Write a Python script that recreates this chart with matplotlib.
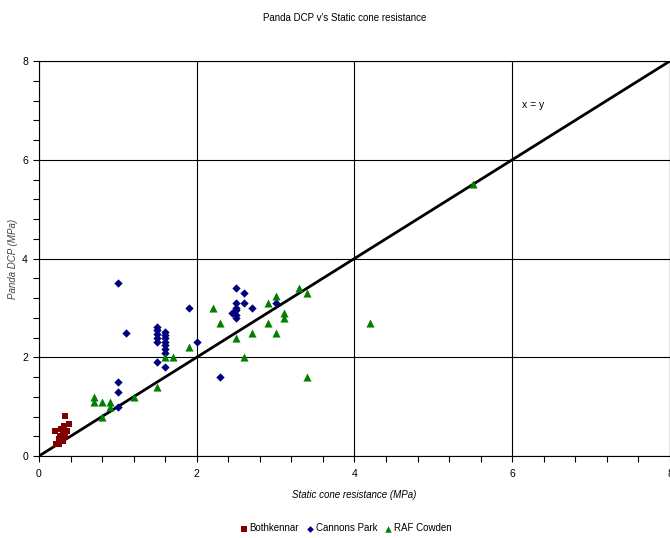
import matplotlib
matplotlib.use("Agg")
import matplotlib.pyplot as plt
from matplotlib.ticker import MultipleLocator

plt.rcParams['font.family'] = ['Liberation Sans', 'DejaVu Sans']

# Static cone resistance (MPa) vs Panda DCP (MPa) for three sites
bothkennar_x = [0.20, 0.22, 0.25, 0.27, 0.28, 0.30, 0.32, 0.33, 0.30, 0.35, 0.38, 0.25, 0.33, 0.28]
bothkennar_y = [0.50, 0.25, 0.35, 0.40, 0.55, 0.45, 0.60, 0.82, 0.30, 0.50, 0.65, 0.25, 0.38, 0.30]

cannons_x = [1.0, 1.1, 1.0, 1.0, 1.0, 1.5, 1.5, 1.5, 1.5, 1.5, 1.5,
             1.6, 1.6, 1.6, 1.6, 1.6, 1.6, 1.6, 1.6, 1.9, 2.0, 2.3,
             2.5, 2.6, 2.5, 2.6, 2.5, 2.45, 2.5, 2.5, 2.5, 2.7, 3.0]
cannons_y = [3.5, 2.5, 1.5, 1.3, 1.0, 2.62, 2.55, 2.48, 2.4, 2.3, 1.9,
             2.52, 2.45, 2.38, 2.31, 2.25, 2.17, 2.09, 1.8, 3.0, 2.3, 1.6,
             3.4, 3.3, 3.1, 3.1, 3.0, 2.9, 2.95, 2.85, 2.8, 3.0, 3.1]

cowden_x = [0.7, 0.7, 0.8, 0.9, 0.9, 0.8, 1.2, 1.5, 1.6, 1.7, 1.9, 2.2, 2.3, 2.5,
            2.6, 2.7, 2.9, 2.9, 3.0, 3.0, 3.1, 3.1, 3.3, 3.4, 3.4, 4.2, 5.5]
cowden_y = [1.2, 1.1, 1.1, 1.1, 1.0, 0.8, 1.2, 1.4, 2.0, 2.0, 2.2, 3.0, 2.7, 2.4,
            2.0, 2.5, 3.1, 2.7, 3.25, 2.5, 2.9, 2.8, 3.4, 3.3, 1.6, 2.7, 5.5]

line_xy = [0, 8]
axis_ticks = [0, 2, 4, 6, 8]

fig = plt.figure(figsize=(6.70, 5.38), dpi=100)
ax = fig.add_axes([0.0582, 0.1524, 0.9418, 0.7342])

ax.set_xlim(0, 8)
ax.set_ylim(0, 8)
ax.set_xticks(axis_ticks)
ax.set_yticks(axis_ticks)
ax.xaxis.set_minor_locator(MultipleLocator(0.4))
ax.yaxis.set_minor_locator(MultipleLocator(0.4))
ax.tick_params(which='both', direction='out', length=4, width=0.8, color='black')
ax.tick_params(axis='x', which='major', labelsize=7.5, pad=5)
ax.tick_params(axis='y', which='major', labelsize=7.5, pad=4)
ax.grid(True, which='major', color='black', linewidth=0.8)
ax.set_axisbelow(True)
for s in ax.spines.values():
    s.set_color('black')
    s.set_linewidth(0.8)

ax.plot(line_xy, line_xy, color='black', linewidth=2, zorder=2)

ax.scatter(bothkennar_x, bothkennar_y, marker='s', s=24, color='#800000',
           label='Bothkennar', zorder=3, linewidths=0)
ax.scatter(cannons_x, cannons_y, marker='D', s=18, color='#000080',
           label='Cannons Park', zorder=3, linewidths=0)
ax.scatter(cowden_x, cowden_y, marker='^', s=34, color='#008000',
           label='RAF Cowden', zorder=3, linewidths=0)

ax.text(6.12, 7.1, 'x = y', fontsize=7.5, ha='left', va='center')

ax.set_xlabel('Static cone resistance (MPa)', fontsize=7, style='italic', labelpad=8)
ax.set_ylabel('Panda DCP (MPa)', fontsize=7, style='italic', color='#444444')
ax.yaxis.set_label_coords(-0.034, 0.5)

fig.text(0.515, 0.966, "Panda DCP v's Static cone resistance", fontsize=7,
         ha='center', va='center')

fig.legend(loc='center', bbox_to_anchor=(0.515, 0.018), ncol=3, frameon=False,
           fontsize=7, handletextpad=0.1, columnspacing=0.6, markerscale=0.8,
           borderaxespad=0, handlelength=1.0)

fig.savefig('out.png', dpi=100)
